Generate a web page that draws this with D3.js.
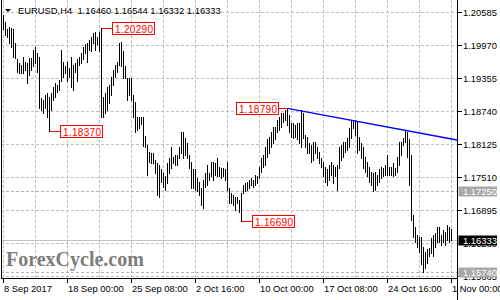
<!DOCTYPE html>
<html>
<head>
<meta charset="utf-8">
<script src="https://cdn.jsdelivr.net/npm/d3@7"></script>
<style>
  html, body { margin: 0; padding: 0; background: #fff; }
  svg { display: block; }
  text { white-space: pre; }
</style>
</head>
<body>
<svg id="chart" width="500" height="300"></svg>
<script>
// EURUSD H4 bars, 8 Sep - 1 Nov 2017, one value per bar
const highs = [
  1.2052, 1.2040, 1.2026, 1.2031, 1.2029, 1.2026, 1.2001, 1.1970, 1.1964, 1.1960,
  1.1975, 1.1966, 1.1964, 1.1973, 1.1973, 1.1988, 1.1994, 1.1983, 1.1975, 1.1899,
  1.1895, 1.1904, 1.1908, 1.1901, 1.1908, 1.1919, 1.1927, 1.1923, 1.1932, 1.1988,
  1.1966, 1.1957, 1.1966, 1.1955, 1.1975, 1.1960, 1.1964, 1.1970, 1.1975, 1.1983,
  1.1994, 1.1998, 1.2001, 1.2007, 1.2012, 1.2020, 1.2022, 1.2012, 1.2022, 1.20290,
  1.1901, 1.1908, 1.1919, 1.1923, 1.1938, 1.1951, 1.1960, 1.1966, 1.2001, 1.2003,
  1.1985, 1.1957, 1.1936, 1.1936, 1.1936, 1.1904, 1.1891, 1.1862, 1.1863, 1.1862,
  1.1862, 1.1828, 1.1811, 1.1798, 1.1796, 1.1796, 1.1783, 1.1778, 1.1774, 1.1765,
  1.1759, 1.1752, 1.1778, 1.1787, 1.1806, 1.1789, 1.1792, 1.1792, 1.1807, 1.1834,
  1.1834, 1.1824, 1.1815, 1.1792, 1.1779, 1.1765, 1.1765, 1.1750, 1.1742, 1.1731,
  1.1746, 1.1759, 1.1774, 1.1759, 1.1779, 1.1779, 1.1778, 1.1787, 1.1770, 1.1768,
  1.1768, 1.1765, 1.1779, 1.1731, 1.1722, 1.1718, 1.1714, 1.1714, 1.1709, 1.1722,
  1.1737, 1.1740, 1.1742, 1.1746, 1.1750, 1.1746, 1.1755, 1.1752, 1.1770, 1.1787,
  1.1792, 1.1807, 1.1821, 1.1826, 1.1834, 1.1845, 1.1845, 1.1858, 1.1863, 1.1871,
  1.1871, 1.1876, 1.18790, 1.1867, 1.1852, 1.1852, 1.1848, 1.1852, 1.1852, 1.1875,
  1.1871, 1.1830, 1.1826, 1.1815, 1.1811, 1.1817, 1.1817, 1.1806, 1.1798, 1.1787,
  1.1779, 1.1770, 1.1765, 1.1774, 1.1779, 1.1774, 1.1770, 1.1774, 1.1806, 1.1811,
  1.1817, 1.1817, 1.1824, 1.1843, 1.1858, 1.1858, 1.1858, 1.1854, 1.1826, 1.1815,
  1.1806, 1.1789, 1.1779, 1.1770, 1.1761, 1.1759, 1.1761, 1.1755, 1.1765, 1.1770,
  1.1768, 1.1774, 1.1792, 1.1770, 1.1770, 1.1778, 1.1768, 1.1789, 1.1817, 1.1817,
  1.1824, 1.1836, 1.1834, 1.1821, 1.1792, 1.1681, 1.1657, 1.1643, 1.1640, 1.1640,
  1.1621, 1.1612, 1.1616, 1.1619, 1.1638, 1.1643, 1.1647, 1.1657, 1.1658, 1.1643,
  1.1653, 1.1649, 1.1662, 1.1658, 1.16544
];
const lows = [
  1.2026, 1.2016, 1.2012, 1.2001, 1.1994, 1.1975, 1.1973, 1.1947, 1.1945, 1.1945,
  1.1945, 1.1951, 1.1927, 1.1942, 1.1951, 1.1957, 1.1964, 1.1947, 1.1880, 1.1876,
  1.1871, 1.1880, 1.1863, 1.18370, 1.1876, 1.1895, 1.1901, 1.1910, 1.1914, 1.1929,
  1.1938, 1.1945, 1.1929, 1.1938, 1.1919, 1.1914, 1.1947, 1.1929, 1.1960, 1.1964,
  1.1970, 1.1983, 1.1966, 1.1988, 1.1985, 1.2001, 1.1988, 1.1998, 1.1985, 1.1862,
  1.1863, 1.1871, 1.1876, 1.1889, 1.1904, 1.1923, 1.1938, 1.1947, 1.1960, 1.1957,
  1.1936, 1.1936, 1.1895, 1.1904, 1.1895, 1.1862, 1.1835, 1.1839, 1.1843, 1.1849,
  1.1809, 1.1806, 1.1755, 1.1779, 1.1778, 1.1778, 1.1759, 1.1718, 1.1714, 1.1742,
  1.1733, 1.1727, 1.1740, 1.1759, 1.1768, 1.1778, 1.1774, 1.1774, 1.1787, 1.1796,
  1.1787, 1.1792, 1.1787, 1.1768, 1.1731, 1.1731, 1.1727, 1.1724, 1.1718, 1.1699,
  1.1694, 1.1733, 1.1737, 1.1746, 1.1752, 1.1746, 1.1755, 1.1752, 1.1752, 1.1750,
  1.1752, 1.1746, 1.1727, 1.1703, 1.1703, 1.1699, 1.1690, 1.1703, 1.1685, 1.16690,
  1.1722, 1.1724, 1.1727, 1.1731, 1.1737, 1.1733, 1.1737, 1.1740, 1.1750, 1.1761,
  1.1770, 1.1774, 1.1789, 1.1796, 1.1807, 1.1815, 1.1821, 1.1834, 1.1839, 1.1845,
  1.1854, 1.1858, 1.1848, 1.1835, 1.1826, 1.1824, 1.1826, 1.1821, 1.1815, 1.1806,
  1.1824, 1.1807, 1.1796, 1.1796, 1.1779, 1.1783, 1.1796, 1.1787, 1.1778, 1.1770,
  1.1752, 1.1742, 1.1737, 1.1746, 1.1755, 1.1740, 1.1752, 1.1727, 1.1768, 1.1783,
  1.1789, 1.1798, 1.1802, 1.1807, 1.1824, 1.1843, 1.1830, 1.1796, 1.1802, 1.1787,
  1.1768, 1.1761, 1.1752, 1.1742, 1.1737, 1.1724, 1.1727, 1.1737, 1.1742, 1.1750,
  1.1752, 1.1755, 1.1755, 1.1755, 1.1755, 1.1752, 1.1755, 1.1761, 1.1774, 1.1792,
  1.1811, 1.1817, 1.1789, 1.1737, 1.1671, 1.1640, 1.1629, 1.1621, 1.1612, 1.1588,
  1.15740, 1.1582, 1.1591, 1.1603, 1.1610, 1.1603, 1.1621, 1.1629, 1.1630, 1.1625,
  1.1630, 1.1625, 1.1634, 1.1630, 1.16332
];

// right price scale
const priceTicks = [1.20585, 1.19970, 1.19355, 1.18740, 1.18125, 1.17510, 1.16895, 1.16280, 1.15665];

// time scale (bar index -> label)
const gridIdx = [0, 16, 32, 48, 64, 80, 96, 112, 128, 144, 160, 176, 192, 208, 224];
const timeIdx = [0, 32, 64, 96, 128, 160, 192, 224];
const timeLabels = ["8 Sep 2017", "18 Sep 00:00", "25 Sep 08:00", "2 Oct 16:00",
  "10 Oct 00:00", "17 Oct 08:00", "24 Oct 16:00", "1 Nov 00:00"];

// swing high / low markers
const swingIdx = [49, 23, 142, 119];
const swingPrice = [1.20290, 1.18370, 1.18790, 1.16690];
const swingSide = ["right", "right", "left", "right"];

// descending trend line through two highs
const trendIdx = [142, 201];
const trendPrice = [1.18790, 1.18380];

// horizontal levels
const levelPrices = [1.17250, 1.15740];
const lastPrice = 1.16333;
const title = "EURUSD,H4  1.16460 1.16544 1.16332 1.16333";

const W = 500, H = 300;
const left = 1, right = 457, bottom = 278;
const font = "'Liberation Sans', Arial, sans-serif";
const fs = 9.4;

const svg = d3.select("#chart");

const x = d3.scaleLinear().domain([0, 224]).range([3, 451]);
const y = d3.scaleLinear().domain([1.15665, 1.20585]).range([276, 12]);
const row = v => Math.round(y(v)) + 0.5;

// grid
const grid = svg.append("g")
  .attr("stroke", "#c0c0c0")
  .attr("stroke-dasharray", "3,2")
  .attr("shape-rendering", "crispEdges");
grid.selectAll("line.h").data(priceTicks).join("line")
  .attr("class", "h")
  .attr("x1", left).attr("x2", right)
  .attr("y1", d => row(d)).attr("y2", d => row(d));
grid.selectAll("line.v").data(gridIdx).join("line")
  .attr("class", "v")
  .attr("x1", d => x(d) + 0.5).attr("x2", d => x(d) + 0.5)
  .attr("y1", 0).attr("y2", bottom);

// level lines
svg.append("g")
  .attr("stroke", "#b4b4b4")
  .attr("stroke-dasharray", "3,2")
  .attr("shape-rendering", "crispEdges")
  .selectAll("line").data(levelPrices).join("line")
  .attr("x1", left).attr("x2", right)
  .attr("y1", d => row(d)).attr("y2", d => row(d));

svg.append("line")
  .attr("x1", left).attr("x2", right)
  .attr("y1", row(lastPrice)).attr("y2", row(lastPrice))
  .attr("stroke", "#c0c0c0")
  .attr("shape-rendering", "crispEdges");

// watermark
svg.append("text")
  .attr("x", 6).attr("y", 266)
  .attr("font-family", "'Liberation Serif', 'Times New Roman', serif")
  .attr("font-weight", "bold")
  .attr("font-size", 20)
  .attr("fill", "#7d7d7d")
  .text("ForexCycle.com");

// bars (high-low)
svg.append("g")
  .attr("fill", "#000")
  .attr("shape-rendering", "crispEdges")
  .selectAll("rect").data(highs).join("rect")
  .attr("x", (d, i) => x(i))
  .attr("y", d => Math.round(y(d)))
  .attr("width", 1)
  .attr("height", (d, i) => Math.max(1, Math.round(y(lows[i])) - Math.round(y(d)) + 1));

// trend line, extended to the right edge
const slope = (trendPrice[1] - trendPrice[0]) / (trendIdx[1] - trendIdx[0]);
const endIdx = x.invert(right);
svg.append("line")
  .attr("x1", x(trendIdx[0]) + 0.5)
  .attr("y1", y(trendPrice[0]))
  .attr("x2", right)
  .attr("y2", y(trendPrice[0] + slope * (endIdx - trendIdx[0])))
  .attr("stroke", "#0000ff")
  .attr("stroke-width", 1.4);

// swing labels
const sw = svg.append("g").attr("shape-rendering", "crispEdges");
swingIdx.forEach((idx, k) => {
  const px = x(idx) + 0.5;
  const py = row(swingPrice[k]);
  const bw = 42, bh = 12;
  const bx = swingSide[k] === "right" ? Math.round(px + 10) + 0.5 : Math.round(px - 10 - bw) + 0.5;
  sw.append("line")
    .attr("x1", px).attr("x2", swingSide[k] === "right" ? bx : bx + bw)
    .attr("y1", py).attr("y2", py)
    .attr("stroke", "#ff0000");
  sw.append("rect")
    .attr("x", bx).attr("y", py - 6)
    .attr("width", bw).attr("height", bh)
    .attr("fill", "#fff").attr("stroke", "#ff0000");
  sw.append("text")
    .attr("x", bx + 2.5).attr("y", py + 4)
    .attr("font-family", font).attr("font-size", 10)
    .attr("textLength", 38).attr("lengthAdjust", "spacing")
    .attr("fill", "#ff0000")
    .attr("shape-rendering", null)
    .text(swingPrice[k].toFixed(5));
});

// frame
svg.append("g")
  .attr("stroke", "#000")
  .attr("shape-rendering", "crispEdges")
  .call(g => g.append("line").attr("x1", left + 0.5).attr("x2", left + 0.5).attr("y1", 0).attr("y2", bottom + 1))
  .call(g => g.append("line").attr("x1", right + 0.5).attr("x2", right + 0.5).attr("y1", 0).attr("y2", H))
  .call(g => g.append("line").attr("x1", left).attr("x2", right + 1).attr("y1", bottom + 0.5).attr("y2", bottom + 0.5));

// price axis
svg.append("g")
  .attr("transform", `translate(${right + 1},0)`)
  .call(d3.axisRight(y).tickValues(priceTicks).tickSize(4).tickFormat(d3.format(".5f")))
  .call(g => g.select(".domain").remove())
  .call(g => g.selectAll(".tick line").attr("stroke", "#000").attr("shape-rendering", "crispEdges"))
  .call(g => g.selectAll(".tick text")
    .attr("x", 5).attr("dy", "0.42em")
    .attr("font-family", font).attr("font-size", fs).attr("fill", "#000"));

// time axis
svg.append("g")
  .attr("transform", `translate(0,${bottom + 1})`)
  .call(d3.axisBottom(x).tickValues(timeIdx).tickSize(4).tickFormat((d, i) => timeLabels[i]))
  .call(g => g.select(".domain").remove())
  .call(g => g.selectAll(".tick line").attr("stroke", "#000").attr("shape-rendering", "crispEdges"))
  .call(g => g.selectAll(".tick text")
    .attr("x", 0.5).attr("y", 12.5).attr("dy", 0)
    .attr("text-anchor", "start")
    .attr("font-family", font).attr("font-size", fs).attr("fill", "#000"));

// price boxes on the scale
const boxes = levelPrices.map(p => ({ p, fill: "#a9a9a9" })).concat([{ p: lastPrice, fill: "#000" }]);
const bx = svg.append("g");
boxes.forEach(b => {
  const cy = Math.round(y(b.p));
  bx.append("rect")
    .attr("x", right + 1.5).attr("y", cy - 4.5)
    .attr("width", 38.5).attr("height", 10)
    .attr("fill", b.fill);
  bx.append("text")
    .attr("x", right + 6).attr("y", cy + 4)
    .attr("font-family", font).attr("font-size", fs)
    .attr("fill", "#fff")
    .text(b.p.toFixed(5));
});

// title
svg.append("path")
  .attr("d", "M5,9 L11,9 L8,12 Z")
  .attr("fill", "#000");
svg.append("text")
  .attr("x", 18).attr("y", 14)
  .attr("font-family", font).attr("font-size", fs)
  .attr("fill", "#000")
  .text(title);
</script>
</body>
</html>
